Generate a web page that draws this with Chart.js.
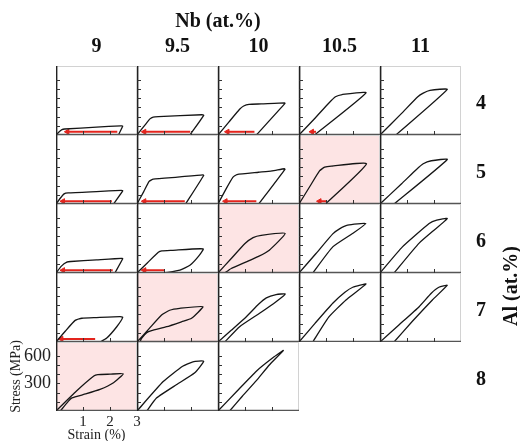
<!DOCTYPE html>
<html>
<head>
<meta charset="utf-8">
<script src="https://cdn.jsdelivr.net/npm/chart.js@4.4.0/dist/chart.umd.min.js"></script>
<style>
  body { margin: 0; background: #fff; }
  #fig { position: relative; width: 520px; height: 441px; font-family: "Liberation Serif", "Times New Roman", serif; color: #111; }
  #fig canvas { position: absolute; }
  .lbl { position: absolute; font-weight: bold; font-size: 20px; line-height: 1; white-space: nowrap; transform: translate(-50%, -50%); }
  .rot { transform: translate(-50%, -50%) rotate(-90deg); }
</style>
</head>
<body>
<div id="fig"></div>
<script>
const NB = ['9', '9.5', '10', '10.5', '11'];
const AL = ['4', '5', '6', '7', '8'];
const X_TICKS = [1, 2, 3];
const Y_TICKS = [300, 600];
const X_MAX = 3;
const Y_MAX = 750;
const Y_STEP = 100;

// [strain %, stress MPa] along each loop, one loop per Nb column
const LOOPS_AL4 = [
  [[0, 0], [0.1, 30], [0.22, 58], [0.32, 65], [1.5, 85], [2.4, 100], [2.47, 96], [2.31, 0]],
  [[0, 0], [0.3, 110], [0.48, 175], [0.6, 195], [0.8, 200], [2.4, 220], [2.47, 214], [1.96, 0]],
  [[0, 0], [0.4, 140], [0.8, 280], [0.95, 315], [1.15, 333], [1.6, 338], [2.46, 350], [2.48, 344], [1.42, 0]],
  [[0, 0], [0.6, 185], [1.1, 345], [1.35, 415], [1.6, 440], [2.48, 459], [0.57, 0]],
  [[0, 0], [0.8, 235], [1.4, 415], [1.6, 455], [1.85, 485], [2.49, 495], [0.59, 0]]
];
const LOOPS_AL5 = [
  [[0, 0], [0.15, 60], [0.3, 110], [0.45, 120], [1.5, 135], [2.42, 148], [2.47, 143], [2.13, 0]],
  [[0, 0], [0.25, 135], [0.45, 245], [0.6, 270], [1.5, 292], [2.44, 317], [2.47, 310], [1.8, 0]],
  [[0, 0], [0.3, 165], [0.55, 290], [0.7, 320], [1.5, 345], [2.0, 360], [2.46, 383], [2.48, 377], [1.51, 0]],
  [[0, 0], [0.4, 190], [0.76, 360], [0.95, 400], [1.2, 412], [2.5, 437], [0.98, 0]],
  [[0, 0], [0.8, 220], [1.35, 375], [1.6, 437], [1.9, 470], [2.49, 484], [0.52, 0]]
];
const LOOPS_AL6 = [
  [[0, 0], [0.2, 75], [0.4, 118], [0.55, 125], [1.5, 143], [2.42, 160], [2.47, 154], [2.18, 0]],
  [[0, 0], [0.4, 115], [0.79, 225], [0.92, 240], [1.3, 246], [2.45, 262], [2.26, 175], [1.96, 85], [1.59, 30], [1.03, 0]],
  [[0, 0], [0.5, 160], [1.0, 320], [1.3, 385], [1.6, 410], [2.49, 430], [1.9, 248], [1.5, 180], [1.05, 121], [0.49, 49], [0.25, 0]],
  [[0, 0], [0.63, 212], [1.25, 425], [1.5, 480], [1.8, 520], [2.48, 538], [1.98, 429], [1.25, 284], [0.51, 0]],
  [[0, 0], [0.83, 284], [1.82, 538], [2.1, 575], [2.49, 592], [1.45, 325], [0.52, 0]]
];
const LOOPS_AL7 = [
  [[0, 0], [0.35, 120], [0.71, 235], [0.96, 258], [1.5, 265], [2.37, 275], [2.47, 268], [2.25, 166], [1.87, 40], [1.63, 0]],
  [[0, 0], [0.45, 145], [0.91, 293], [1.21, 345], [1.58, 366], [2.44, 384], [2.02, 258], [1.66, 221], [1.1, 166], [0.54, 123], [0.36, 101], [0.17, 40], [0.11, 0]],
  [[0, 0], [0.5, 130], [1.05, 275], [1.5, 410], [1.79, 480], [2.15, 515], [2.49, 522], [2.15, 438], [1.54, 312], [0.8, 166], [0.25, 0]],
  [[0, 0], [0.6, 205], [1.25, 421], [1.7, 540], [1.99, 595], [2.48, 630], [1.74, 457], [1.1, 270], [0.51, 0]],
  [[0, 0], [0.7, 185], [1.45, 384], [1.9, 530], [2.18, 595], [2.49, 616], [1.94, 457], [1.2, 225], [0.52, 0]]
];
const LOOPS_AL8 = [
  [[0, 0], [0.75, 215], [1.4, 380], [1.55, 395], [2.0, 400], [2.49, 405], [2.13, 307], [1.63, 234], [1.1, 185], [0.59, 143], [0.46, 107], [0.16, 0]],
  [[0, 0], [0.97, 320], [1.69, 487], [2.07, 535], [2.47, 541], [2.14, 415], [1.47, 288], [0.73, 143], [0.36, 0]],
  [[0, 0], [0.7, 215], [1.42, 433], [2.03, 578], [2.42, 658], [1.9, 500], [1.42, 330], [0.9, 160], [0.43, 0]]
];

// residual strain arrows: [from strain, to strain, stress level]
const ARROWS_AL4 = [[2.27, 0.42, 35], [1.97, 0.27, 35], [1.35, 0.35, 35], [0.63, 0.48, 35], null];
const ARROWS_AL5 = [[2.07, 0.26, 30], [1.77, 0.27, 30], [1.42, 0.28, 30], [1.04, 0.76, 30], null];
const ARROWS_AL6 = [[2.1, 0.26, 30], [1.03, 0.27, 30], null, null, null];
const ARROWS_AL7 = [[1.45, 0.2, 33], null, null, null, null];
const ARROWS_AL8 = [null, null, null];

// highlighted panels as [row, column]
const HIGHLIGHT = [[1, 3], [2, 2], [3, 1], [4, 0]];

const ROWS = [LOOPS_AL4, LOOPS_AL5, LOOPS_AL6, LOOPS_AL7, LOOPS_AL8];
const ROW_ARROWS = [ARROWS_AL4, ARROWS_AL5, ARROWS_AL6, ARROWS_AL7, ARROWS_AL8];

const GRID_LEFT = 56, GRID_TOP = 66, PW = 81, PH = 69, PAD = 2;
const X_AXIS_H = 33;
const PINK = '#fde4e4';
const RED = '#e3241d';

const fig = document.getElementById('fig');

const framePlugin = {
  id: 'frame',
  beforeDraw(chart, args, opts) {
    if (!opts.pink) return;
    const { ctx, chartArea: a } = chart;
    ctx.save();
    ctx.fillStyle = PINK;
    ctx.fillRect(a.left, a.top, a.right - a.left, a.bottom - a.top);
    ctx.restore();
  },
  afterDatasetsDraw(chart) {
    const { ctx, chartArea: a, scales } = chart;
    ctx.save();
    ctx.lineWidth = 1;
    ctx.strokeStyle = '#d2d2d2';
    ctx.beginPath();
    ctx.moveTo(a.left, a.top + 0.5);
    ctx.lineTo(a.right, a.top + 0.5);
    ctx.moveTo(a.right - 0.5, a.top);
    ctx.lineTo(a.right - 0.5, a.bottom);
    ctx.stroke();

    ctx.strokeStyle = '#555';
    ctx.lineWidth = 1.3;
    ctx.beginPath();
    ctx.moveTo(a.left, a.bottom - 0.6);
    ctx.lineTo(a.right, a.bottom - 0.6);
    ctx.stroke();

    ctx.strokeStyle = '#222';
    ctx.lineWidth = 1.4;
    ctx.beginPath();
    ctx.moveTo(a.left + 0.7, a.top);
    ctx.lineTo(a.left + 0.7, a.bottom);
    ctx.stroke();

    // inward tick marks
    ctx.lineWidth = 1;
    ctx.strokeStyle = '#333';
    ctx.beginPath();
    scales.y.ticks.forEach(t => {
      if (t.value <= 0 || t.value >= Y_MAX) return;
      const y = Math.round(scales.y.getPixelForValue(t.value)) + 0.5;
      ctx.moveTo(a.left, y);
      ctx.lineTo(a.left + 4, y);
    });
    scales.x.ticks.forEach(t => {
      if (t.value <= 0 || t.value >= X_MAX) return;
      const x = Math.round(scales.x.getPixelForValue(t.value)) + 0.5;
      ctx.moveTo(x, a.bottom);
      ctx.lineTo(x, a.bottom - 4);
    });
    ctx.stroke();
    ctx.restore();
  }
};

function addLabel(text, x, y, rotate) {
  const d = document.createElement('div');
  d.className = 'lbl' + (rotate ? ' rot' : '');
  d.textContent = text;
  d.style.left = x + 'px';
  d.style.top = y + 'px';
  fig.appendChild(d);
}

function makePanel(r, c) {
  const loop = ROWS[r][c];
  const arrow = ROW_ARROWS[r][c];
  const labeled = r === 4 && c === 0;
  const pink = HIGHLIGHT.some(h => h[0] === r && h[1] === c);
  const px = GRID_LEFT + c * PW;
  const py = GRID_TOP + r * PH;

  const canvas = document.createElement('canvas');
  let left, top, w, h, padding;
  if (labeled) {
    left = 0; top = py - PAD; w = px + PW + 8; h = PAD + PH + X_AXIS_H;
    padding = { left: 0, top: PAD, right: 8, bottom: 0 };
  } else {
    left = px - PAD; top = py - PAD; w = PW + 2 * PAD; h = PH + 2 * PAD;
    padding = PAD;
  }
  canvas.width = w; canvas.height = h;
  canvas.style.left = left + 'px';
  canvas.style.top = top + 'px';
  canvas.style.width = w + 'px';
  canvas.style.height = h + 'px';
  fig.appendChild(canvas);

  const datasets = [{
    data: loop.map(p => ({ x: p[0], y: p[1] })),
    showLine: true,
    borderColor: '#151515',
    borderWidth: 1.3,
    pointRadius: 0,
    tension: 0.15,
    borderJoinStyle: 'round'
  }];
  if (arrow) {
    datasets.push({
      data: [{ x: arrow[0], y: arrow[2] }, { x: arrow[1], y: arrow[2] }],
      showLine: true,
      borderColor: RED,
      backgroundColor: RED,
      borderWidth: 2,
      pointRadius: [0, 3],
      pointStyle: 'triangle',
      rotation: -90,
      pointBorderWidth: 1
    });
  }

  const serif = '"Liberation Serif", "Times New Roman", serif';
  const noPad = s => { s.paddingTop = 0; s.paddingBottom = 0; s.paddingLeft = 0; s.paddingRight = 0; };

  new Chart(canvas, {
    type: 'scatter',
    data: { datasets },
    options: {
      responsive: false,
      animation: false,
      events: [],
      layout: { padding, autoPadding: false },
      plugins: {
        legend: { display: false },
        tooltip: { enabled: false },
        frame: { pink }
      },
      scales: {
        x: {
          type: 'linear', min: 0, max: X_MAX,
          grid: { display: false, drawTicks: false }, border: { display: false },
          ticks: {
            display: labeled, stepSize: 1, padding: 2, color: '#222', font: { family: serif, size: 15 },
            maxRotation: 0, autoSkip: false,
            callback: v => X_TICKS.includes(v) ? String(v) : ''
          },
          title: { display: labeled, text: 'Strain (%)', color: '#222', font: { family: serif, size: 14 }, padding: 0 },
          afterFit: s => { s.height = labeled ? X_AXIS_H : 0; noPad(s); }
        },
        y: {
          type: 'linear', min: 0, max: Y_MAX,
          grid: { display: false, drawTicks: false }, border: { display: false },
          ticks: {
            display: labeled, stepSize: Y_STEP, padding: 5, color: '#222', font: { family: serif, size: 18 },
            autoSkip: false,
            callback: v => Y_TICKS.includes(v) ? String(v) : ''
          },
          title: { display: labeled, text: 'Stress (MPa)', color: '#222', font: { family: serif, size: 14 }, padding: { top: 8 } },
          afterFit: s => { s.width = labeled ? px : 0; noPad(s); }
        }
      }
    },
    plugins: [framePlugin]
  });
}

ROWS.forEach((row, r) => row.forEach((loop, c) => makePanel(r, c)));

addLabel('Nb (at.%)', 218, 20);
NB.forEach((t, c) => addLabel(t, GRID_LEFT + c * PW + PW / 2, 45));
AL.forEach((t, r) => addLabel(t, 481, GRID_TOP + r * PH + PH / 2 + 1));
addLabel('Al (at.%)', 510, 286, true);
</script>
</body>
</html>
